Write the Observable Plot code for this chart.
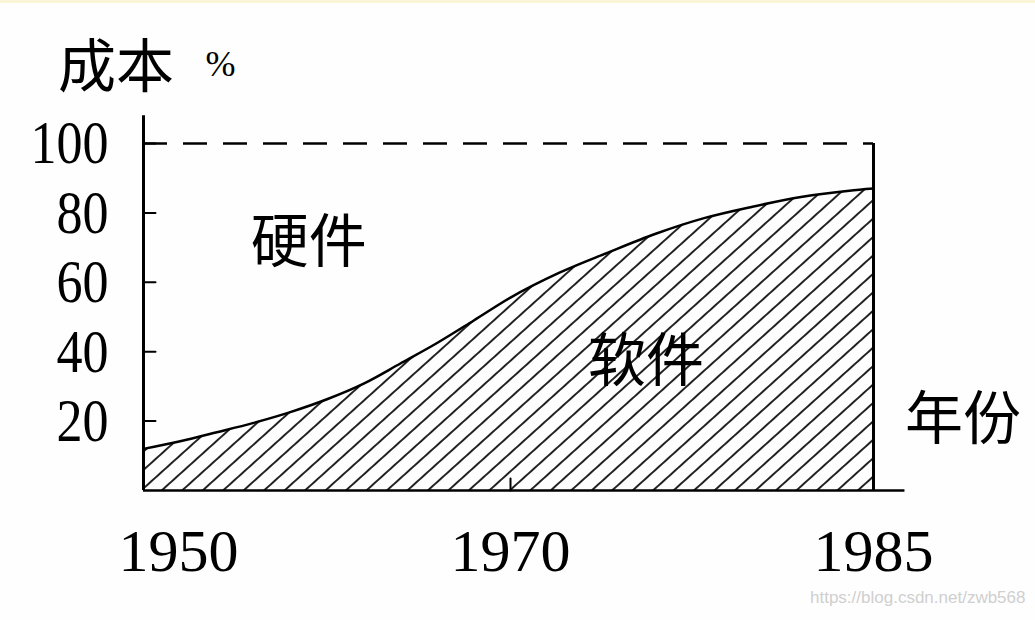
<!DOCTYPE html>
<html>
<head>
<meta charset="utf-8">
<script src="https://cdn.jsdelivr.net/npm/d3@7"></script>
<script src="https://cdn.jsdelivr.net/npm/@observablehq/plot@0.6"></script>
<style>
  html, body { margin: 0; padding: 0; background: #fefefe; }
  #topband { position: absolute; left: 0; top: 0; width: 1035px; height: 3px; background: #faf5d6; }
</style>
</head>
<body>
<div id="topband"></div>
<div id="chart"></div>
<script>
// ---- data ----
const years = [1950, 1952, 1954, 1956, 1958, 1960, 1962, 1964, 1966, 1968, 1970, 1972, 1974, 1976, 1978, 1980, 1982, 1984, 1985];
const softwareShare = [12, 14.2, 16.8, 19.5, 22.6, 26.3, 30.8, 36.6, 42.5, 49, 55.6, 62.7, 68.5, 74, 78.5, 81.8, 84.6, 86.4, 87];
const yTicks = [20, 40, 60, 80, 100];
const xTickLabels = [1950, 1970, 1985];
const labelCost = "成本";
const labelPercent = "%";
const labelHardware = "硬件";
const labelSoftware = "软件";
const labelYear = "年份";
const watermark = "https://blog.csdn.net/zwb568";

const data = years.map((y, i) => ({year: y, share: softwareShare[i]}));

const tickShapeRight = {draw(ctx, l) { ctx.moveTo(0, 0); ctx.lineTo(0, -l); }};

const serif = "'Liberation Serif', 'DejaVu Serif', serif";
const cjk = "'Noto Sans CJK SC', sans-serif";

const chart = Plot.plot({
  width: 1035,
  height: 620,
  marginLeft: 143,
  marginRight: 162,
  marginTop: 143,
  marginBottom: 130,
  style: {background: "transparent", overflow: "visible"},
  x: {type: "linear", domain: [1950, 1970, 1985], range: [143, 510, 873], axis: null},
  y: {type: "linear", domain: [0, 100], range: [490, 143], axis: null},
  marks: [
    // hatched software area
    Plot.areaY(data, {x: "year", y: "share", fill: "url(#hatch)", curve: "monotone-x"}),
    Plot.lineY(data, {x: "year", y: "share", stroke: "#000", strokeWidth: 2.5, curve: "monotone-x"}),
    // dashed 100% line
    Plot.ruleY([100], {x1: 1950, x2: 1985, stroke: "#000", strokeWidth: 2.5, strokeDasharray: "24,16"}),
    // frame lines
    Plot.ruleX([1950], {y1: 0, y2: 108, stroke: "#000", strokeWidth: 3}),
    Plot.ruleX([1985], {y1: 0, y2: 100, stroke: "#000", strokeWidth: 3}),
    Plot.ruleY([0], {x1: 1950, x2: 1986.3, stroke: "#000", strokeWidth: 2.5}),
    // inward ticks
    Plot.vector(yTicks, {x: 1950, y: d => d, length: 12, rotate: 90, anchor: "start", shape: tickShapeRight, stroke: "#000", strokeWidth: 2}),
    Plot.vector([1970], {x: d => d, y: 0, length: 12, rotate: 0, anchor: "start", shape: tickShapeRight, stroke: "#000", strokeWidth: 2}),
    // y tick labels
    Plot.text(yTicks, {x: 1950, y: d => d, text: d => String(d), dx: -35, textAnchor: "end", fontSize: 62, fontFamily: serif, fill: "#000"}),
    // x tick labels
    Plot.text(xTickLabels.filter(d => d !== 1950), {x: d => d, y: 0, text: d => String(d), dy: 61, fontSize: 60, fontFamily: serif, fill: "#000"}),
    Plot.text(xTickLabels.filter(d => d === 1950), {x: d => d, y: 0, text: d => String(d), dx: 35, dy: 61, fontSize: 60, fontFamily: serif, fill: "#000"}),
    // annotations
    Plot.text([labelCost], {x: 1948.5, y: 121.6, text: d => d, fontSize: 58, fontFamily: cjk, fill: "#000"}),
    Plot.text([labelPercent], {x: 1954.2, y: 122.8, text: d => d, fontSize: 36, fontFamily: serif, fill: "#000"}),
    Plot.text([labelHardware], {x: 1959, y: 71.2, text: d => d, fontSize: 58, fontFamily: cjk, fill: "#000"}),
    Plot.text([labelSoftware], {x: 1975.6, y: 36.9, text: d => d, fontSize: 58, fontFamily: cjk, fill: "#000"}),
    Plot.text([labelYear], {x: 1988.7, y: 20.2, text: d => d, fontSize: 58, fontFamily: cjk, fill: "#000"}),
    Plot.text([watermark], {frameAnchor: "bottom-right", text: d => d, dx: 152, dy: 112, textAnchor: "end", fontSize: 17, fontFamily: "'Liberation Sans', Arial, sans-serif", fill: "#cfcfcf"})
  ]
});

// hatch pattern definition
const svg = d3.select(chart);
const defs = svg.insert("defs", ":first-child");
const s = 13.7;
const pat = defs.append("pattern")
  .attr("id", "hatch")
  .attr("patternUnits", "userSpaceOnUse")
  .attr("width", s)
  .attr("height", s)
  .attr("patternTransform", "rotate(48)");
pat.append("line")
  .attr("x1", s / 2).attr("y1", -1)
  .attr("x2", s / 2).attr("y2", s + 1)
  .attr("stroke", "#000")
  .attr("stroke-width", 1.7);

document.getElementById("chart").appendChild(chart);

// condense the y tick labels slightly (narrow serif digits as in the reference)
const yLabelSet = new Set(yTicks.map(String));
svg.selectAll("text").filter(function () { return yLabelSet.has(this.textContent); })
  .each(function () {
    const w = this.getComputedTextLength();
    this.setAttribute("textLength", (w * 0.84).toFixed(1));
    this.setAttribute("lengthAdjust", "spacingAndGlyphs");
  });
</script>
</body>
</html>
